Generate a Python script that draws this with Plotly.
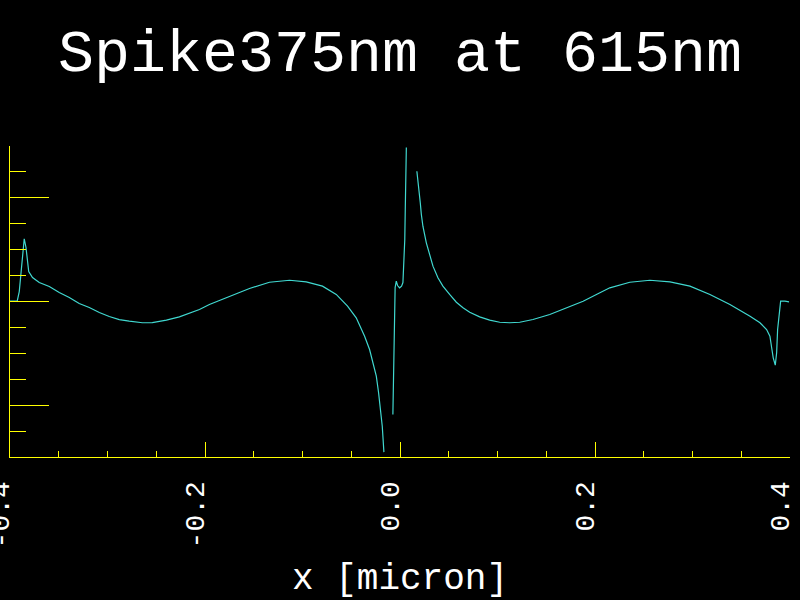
import plotly.graph_objects as go

# Curve data (x in micron, y arbitrary units; None marks gaps where the trace leaves the range)
x_vals = [
    -0.4000, -0.3926, -0.3905, -0.3888, -0.3871, -0.3854, -0.3836, -0.3820, -0.3808, -0.3769,
    -0.3700, -0.3597, -0.3495, -0.3392, -0.3290, -0.3187, -0.3084, -0.2982, -0.2879, -0.2777,
    -0.2642, -0.2540, -0.2396, -0.2263, -0.2057, -0.1955, -0.1749, -0.1544, -0.1339, -0.1133,
    -0.0962, -0.0795, -0.0654, -0.0538, -0.0449, -0.0363, -0.0312, -0.0278, -0.0243, -0.0220,
    -0.0199, -0.0182, -0.0165, -0.0120,
    -0.0073, -0.0061, -0.0050, -0.0038, -0.0025, -0.0004, 0.0016, 0.0030, 0.0040, 0.0049,
    0.0054, 0.0065, 0.0120,
    0.0173, 0.0184, 0.0194, 0.0208, 0.0219, 0.0235, 0.0270, 0.0304, 0.0338, 0.0389,
    0.0440, 0.0509, 0.0578, 0.0646, 0.0715, 0.0817, 0.0920, 0.1023, 0.1125, 0.1228,
    0.1364, 0.1536, 0.1707, 0.1878, 0.2050, 0.2152, 0.2357, 0.2563, 0.2769, 0.2974,
    0.3179, 0.3384, 0.3590, 0.3692, 0.3760, 0.3794, 0.3812, 0.3828, 0.3849, 0.3863,
    0.3873, 0.3887, 0.3904, 0.3948, 0.3990,
]
y_vals = [
    0.003, 0.003, 0.096, 0.280, 0.434, 0.605, 0.521, 0.386, 0.289, 0.231,
    0.183, 0.145, 0.087, 0.039, -0.019, -0.058, -0.106, -0.145, -0.174, -0.190,
    -0.205, -0.203, -0.180, -0.148, -0.077, -0.029, 0.051, 0.125, 0.186, 0.205,
    0.190, 0.148, 0.068, -0.045, -0.157, -0.335, -0.463, -0.588, -0.720, -0.878,
    -1.041, -1.203, -1.453, None,
    -1.090, -0.174, 0.135, 0.196, 0.154, 0.132, 0.148, 0.183, 0.386, 0.598,
    0.887, 1.485, None,
    1.257, 1.176, 1.064, 0.952, 0.839, 0.726, 0.566, 0.453, 0.341, 0.229,
    0.148, 0.068, -0.007, -0.061, -0.103, -0.148, -0.180, -0.200, -0.205, -0.200,
    -0.174, -0.125, -0.061, 0.003, 0.084, 0.132, 0.186, 0.205, 0.190, 0.148,
    0.068, -0.029, -0.142, -0.205, -0.270, -0.335, -0.446, -0.543, -0.614, -0.495,
    -0.270, -0.109, 0.003, 0.003, -0.003,
]

x_tickvals = [-0.4, -0.2, 0.0, 0.2, 0.4]
x_ticktext = ["-0.4", "-0.2", "0.0", "0.2", "0.4"]
y_tickvals = [-1, 0, 1]

title_text = "Spike375nm at 615nm"
xaxis_title = "x [micron]"

FONT = "Liberation Mono"
YELLOW = "#ffff00"

fig = go.Figure()
fig.add_trace(go.Scatter(
    x=x_vals, y=y_vals, mode="lines",
    line=dict(color="#40d8d0", width=1.2),
    connectgaps=False, hoverinfo="skip", showlegend=False,
))

fig.update_layout(
    width=800, height=600,
    paper_bgcolor="black", plot_bgcolor="black",
    margin=dict(l=10, r=10, t=146, b=143, autoexpand=False),
    title=dict(text=title_text, x=0.5, xanchor="center", xref="paper",
               y=1 - 50 / 600, yanchor="middle", yref="container",
               font=dict(family=FONT, size=60, color="white")),
    xaxis=dict(
        range=[-0.4, 0.4], showgrid=False, zeroline=False, automargin=False,
        showline=True, linecolor=YELLOW, linewidth=1,
        ticks="inside", ticklen=15, tickwidth=1, tickcolor=YELLOW,
        tickvals=x_tickvals, ticktext=x_ticktext, tickangle=-90,
        tickfont=dict(family=FONT, size=28, color="white"),
        ticklabelstandoff=12, ticklabelshift=-10, ticklabeloverflow="allow",
        minor=dict(dtick=0.05, tick0=0, ticks="inside", ticklen=6,
                   tickcolor=YELLOW, tickwidth=1, showgrid=False),
        title=dict(text=xaxis_title, standoff=22,
                   font=dict(family=FONT, size=36, color="white")),
    ),
    yaxis=dict(
        range=[-1.5, 1.5], showgrid=False, zeroline=False, automargin=False,
        showline=True, linecolor=YELLOW, linewidth=1,
        ticks="inside", ticklen=39, tickwidth=1, tickcolor=YELLOW,
        tickvals=y_tickvals, showticklabels=False,
        minor=dict(dtick=0.25, tick0=0, ticks="inside", ticklen=16,
                   tickcolor=YELLOW, tickwidth=1, showgrid=False),
    ),
)

fig.write_html(
    "out.html",
    config={"displayModeBar": False, "staticPlot": True},
    post_script="document.body.style.margin='0';document.body.style.background='black';"
                "document.documentElement.style.background='black';"
                "document.body.style.overflow='hidden';",
)
